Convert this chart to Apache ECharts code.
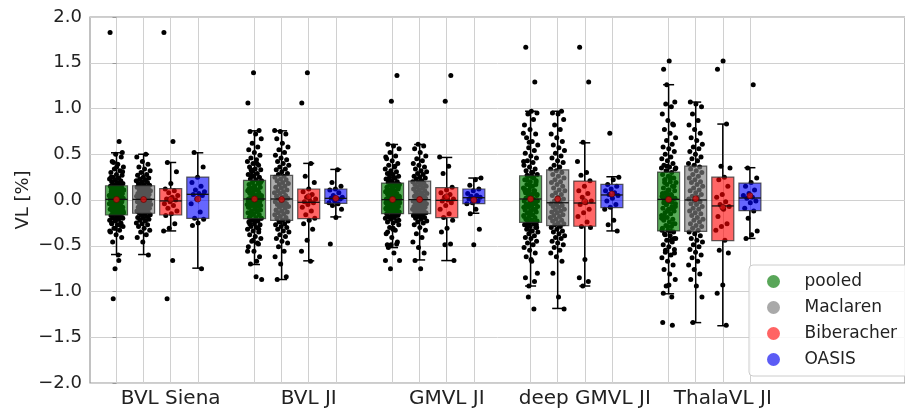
<!DOCTYPE html>
<html>
<head>
<meta charset="utf-8">
<script src="https://cdn.jsdelivr.net/npm/echarts@6/dist/echarts.min.js"></script>
<style>html,body{margin:0;padding:0;background:#fff}#c{width:905px;height:412px}</style>
</head>
<body>
<div id="c"></div>
<script>
// ---------------- data ----------------
const categories = ['BVL Siena', 'BVL JI', 'GMVL JI', 'deep GMVL JI', 'ThalaVL JI'];
const hues = ['pooled', 'Maclaren', 'Biberacher', 'OASIS'];
const yTicks = [-2.0, -1.5, -1.0, -0.5, 0.0, 0.5, 1.0, 1.5, 2.0];

// box statistics [whisker low, Q1, median, Q3, whisker high]
const pooledBox = [
  [-0.596, -0.164, 0.007, 0.156, 0.516],
  [-0.705, -0.204, 0.011, 0.214, 0.756],
  [-0.52, -0.149, 0.004, 0.185, 0.607],
  [-0.94, -0.244, 0.011, 0.265, 0.97],
  [-1.025, -0.338, 0.007, 0.305, 1.26]
];
const maclarenBox = [
  [-0.596, -0.145, 0.007, 0.156, 0.50],
  [-0.869, -0.222, 0.011, 0.269, 0.756],
  [-0.655, -0.149, 0.004, 0.207, 0.607],
  [-1.185, -0.28, -0.03, 0.33, 0.97],
  [-1.34, -0.342, 0.0, 0.37, 1.07]
];
const biberacherBox = [
  [-0.338, -0.164, -0.01, 0.124, 0.41],
  [-0.665, -0.204, -0.025, 0.12, 0.40],
  [-0.662, -0.193, -0.004, 0.135, 0.465],
  [-0.94, -0.287, -0.033, 0.207, 0.625],
  [-1.374, -0.443, -0.065, 0.25, 0.83]
];
const oasisBox = [
  [-0.745, -0.2, 0.062, 0.25, 0.516],
  [-0.185, -0.036, 0.018, 0.12, 0.334],
  [-0.145, -0.04, 0.025, 0.12, 0.24],
  [-0.338, -0.084, 0.055, 0.17, 0.254],
  [-0.42, -0.116, 0.022, 0.185, 0.353]
];

// means (red markers)
const pooledMean = [0.005, 0.01, 0.005, 0.011, 0.005];
const maclarenMean = [0.005, 0.005, 0.005, 0.011, 0.015];
const biberacherMean = [0.007, 0.036, 0.036, -0.018, -0.08];
const oasisMean = [0.01, 0.018, 0.0, 0.065, 0.047];

// individual values
const maclarenPts = [
  [-0.60,-0.46,-0.41,-0.38,-0.35,-0.33,-0.31,-0.29,-0.27,-0.26,-0.25,-0.23,-0.22,-0.21,-0.20,-0.19,-0.18,-0.17,-0.16,-0.15,-0.14,-0.13,-0.12,-0.12,-0.11,-0.10,-0.09,-0.08,-0.08,-0.07,-0.06,-0.05,-0.05,-0.04,-0.03,-0.02,-0.02,-0.01,0.00,0.00,
   0.01,0.02,0.03,0.03,0.04,0.05,0.05,0.06,0.07,0.07,0.08,0.09,0.10,0.10,0.11,0.12,0.13,0.14,0.14,0.15,0.16,0.17,0.18,0.19,0.20,0.21,0.22,0.23,0.24,0.25,0.27,0.28,0.30,0.32,0.34,0.36,0.39,0.42,0.47,0.50],
  [-0.87,-0.84,-0.70,-0.62,-0.56,-0.51,-0.47,-0.45,-0.42,-0.40,-0.38,-0.35,-0.34,-0.32,-0.30,-0.29,-0.27,-0.26,-0.24,-0.23,-0.22,-0.20,-0.19,-0.18,-0.16,-0.15,-0.14,-0.13,-0.12,-0.11,-0.09,-0.08,-0.07,-0.06,-0.05,-0.04,-0.03,-0.02,-0.01,0.01,
   0.02,0.03,0.04,0.05,0.07,0.08,0.09,0.10,0.11,0.13,0.14,0.15,0.17,0.18,0.19,0.21,0.22,0.23,0.25,0.26,0.28,0.29,0.31,0.33,0.34,0.36,0.38,0.40,0.42,0.44,0.46,0.49,0.52,0.55,0.58,0.62,0.67,0.72,0.75,0.76],
  [-0.75,-0.66,-0.58,-0.52,-0.46,-0.41,-0.37,-0.33,-0.30,-0.27,-0.25,-0.24,-0.23,-0.21,-0.20,-0.19,-0.18,-0.17,-0.16,-0.15,-0.14,-0.13,-0.13,-0.12,-0.11,-0.10,-0.10,-0.09,-0.08,-0.07,-0.07,-0.06,-0.05,-0.04,-0.04,-0.03,-0.02,-0.01,-0.01,0.00,
   0.01,0.02,0.03,0.04,0.05,0.06,0.07,0.08,0.09,0.10,0.11,0.12,0.13,0.14,0.15,0.16,0.17,0.18,0.19,0.20,0.21,0.23,0.24,0.25,0.26,0.28,0.29,0.31,0.32,0.34,0.36,0.38,0.40,0.43,0.45,0.48,0.52,0.56,0.59,0.61],
  [-1.19,-1.06,-0.80,-0.67,-0.62,-0.58,-0.55,-0.52,-0.49,-0.47,-0.45,-0.42,-0.41,-0.39,-0.37,-0.35,-0.34,-0.32,-0.30,-0.29,-0.27,-0.26,-0.25,-0.23,-0.22,-0.21,-0.19,-0.18,-0.17,-0.16,-0.14,-0.13,-0.12,-0.11,-0.10,-0.08,-0.07,-0.06,-0.05,-0.04,
   -0.02,-0.01,0.01,0.03,0.05,0.06,0.08,0.10,0.11,0.13,0.15,0.17,0.19,0.20,0.22,0.24,0.26,0.28,0.30,0.32,0.34,0.36,0.38,0.41,0.43,0.46,0.48,0.51,0.54,0.57,0.60,0.64,0.68,0.72,0.77,0.82,0.88,0.94,0.95,0.97],
  [-1.34,-1.06,-0.94,-0.87,-0.81,-0.76,-0.71,-0.67,-0.63,-0.60,-0.57,-0.54,-0.51,-0.49,-0.46,-0.44,-0.42,-0.39,-0.37,-0.35,-0.33,-0.31,-0.29,-0.28,-0.26,-0.24,-0.22,-0.21,-0.19,-0.17,-0.15,-0.14,-0.12,-0.10,-0.09,-0.07,-0.05,-0.04,-0.02,-0.01,
   0.01,0.03,0.04,0.06,0.08,0.10,0.11,0.13,0.15,0.17,0.19,0.20,0.22,0.24,0.26,0.28,0.30,0.32,0.34,0.36,0.38,0.40,0.43,0.45,0.47,0.50,0.53,0.56,0.58,0.61,0.65,0.68,0.73,0.77,0.82,0.87,0.94,1.02,1.05,1.07]
];
const biberacherPts = [
  [1.83,0.64,0.41,0.31,0.18,0.12,0.10,0.08,0.05,0.03,0.01,0.00,-0.02,-0.04,-0.06,-0.09,-0.12,-0.15,-0.17,-0.26,-0.31,-0.34,-0.66,-1.08],
  [1.39,1.06,0.40,0.26,0.19,0.12,0.09,0.06,0.03,0.01,-0.01,-0.02,-0.03,-0.05,-0.08,-0.12,-0.16,-0.20,-0.22,-0.26,-0.32,-0.44,-0.56,-0.67],
  [1.36,1.08,0.47,0.37,0.29,0.14,0.11,0.08,0.06,0.03,0.01,0.00,-0.01,-0.03,-0.06,-0.10,-0.15,-0.19,-0.22,-0.31,-0.35,-0.48,-0.49,-0.66],
  [1.67,1.29,0.63,0.42,0.30,0.27,0.21,0.15,0.10,0.07,0.03,-0.01,-0.03,-0.05,-0.10,-0.14,-0.18,-0.24,-0.29,-0.30,-0.65,-0.85,-0.89,-0.94],
  [1.52,1.43,0.83,0.37,0.35,0.25,0.22,0.15,0.06,0.03,-0.02,-0.05,-0.07,-0.10,-0.18,-0.26,-0.29,-0.33,-0.44,-0.55,-0.58,-0.93,-1.02,-1.37]
];
const oasisPts = [
  [0.52,0.36,0.25,0.19,0.15,0.11,0.09,0.07,0.06,0.05,0.01,-0.04,-0.13,-0.20,-0.21,-0.25,-0.28,-0.75],
  [0.33,0.19,0.15,0.12,0.11,0.08,0.05,0.03,0.02,0.02,0.01,-0.01,-0.03,-0.04,-0.06,-0.10,-0.19,-0.48],
  [0.24,0.22,0.16,0.12,0.10,0.07,0.05,0.04,0.03,0.02,0.01,-0.01,-0.03,-0.04,-0.10,-0.15,-0.32,-0.49],
  [0.73,0.25,0.22,0.17,0.15,0.12,0.10,0.08,0.06,0.05,0.02,-0.01,-0.05,-0.08,-0.10,-0.22,-0.27,-0.34],
  [1.26,0.35,0.24,0.19,0.15,0.11,0.07,0.05,0.03,0.02,-0.01,-0.03,-0.09,-0.12,-0.20,-0.34,-0.38,-0.42]
];
// pooled = all three sources together
const pooledPts = categories.map((c, g) => maclarenPts[g].concat(biberacherPts[g], oasisPts[g]));

// ---------------- layout / styles ----------------
const GROUP_STEP = 5.094;           // axis units between groups (1 unit = box spacing)
const X_MIN = -0.978, X_MAX = 29.1;
const fills = ['rgba(0,128,0,0.65)', 'rgba(128,128,128,0.65)', 'rgba(255,0,0,0.6)', 'rgba(0,0,255,0.6)'];
const legendColors = ['#59a659', '#a9a9a9', '#ff6464', '#5c5cf5'];
const pos = (g, k) => g * GROUP_STEP + k;

const allBoxes = [pooledBox, maclarenBox, biberacherBox, oasisBox];
const allMeans = [pooledMean, maclarenMean, biberacherMean, oasisMean];
const allPts = [pooledPts, maclarenPts, biberacherPts, oasisPts];

const boxData = [];
const meanData = [];
const tickPositions = [];
categories.forEach((c, g) => {
  for (let k = 0; k < 4; k++) {
    const b = allBoxes[k][g];
    boxData.push([pos(g, k), b[0], b[1], b[2], b[3], b[4], k]);
    meanData.push([pos(g, k), allMeans[k][g]]);
    tickPositions.push(pos(g, k));
  }
});
const labelPositions = categories.map((c, g) => pos(g, 2));

const pointSeries = hues.map((h, k) => {
  const data = [];
  categories.forEach((c, g) => {
    allPts[k][g].forEach((v, i) => {
      const j = (((i + 1) * 0.6180339887 + g * 0.37 + k * 0.21) % 1) - 0.5;
      data.push([pos(g, k) + j * 0.54, v]);
    });
  });
  return {
    name: h, type: 'scatter', data: data, z: 1,
    symbol: 'circle', symbolSize: 5,
    itemStyle: { color: '#000', opacity: 1 },
    emphasis: { disabled: true }, silent: true
  };
});

function renderBox(params, api) {
  const x = api.value(0);
  const pMin = api.coord([x, api.value(1)]);
  const pQ1 = api.coord([x, api.value(2)]);
  const pMed = api.coord([x, api.value(3)]);
  const pQ3 = api.coord([x, api.value(4)]);
  const pMax = api.coord([x, api.value(5)]);
  const hue = api.value(6);
  const w = 22, cap = 11, cx = pMed[0];
  const ls = { stroke: '#000', lineWidth: 1.5 };
  return {
    type: 'group', children: [
      { type: 'line', shape: { x1: cx, y1: pQ3[1], x2: cx, y2: pMax[1] }, style: ls },
      { type: 'line', shape: { x1: cx, y1: pQ1[1], x2: cx, y2: pMin[1] }, style: ls },
      { type: 'line', shape: { x1: cx - cap / 2, y1: pMax[1], x2: cx + cap / 2, y2: pMax[1] }, style: ls },
      { type: 'line', shape: { x1: cx - cap / 2, y1: pMin[1], x2: cx + cap / 2, y2: pMin[1] }, style: ls },
      { type: 'rect', shape: { x: cx - w / 2, y: pQ3[1], width: w, height: pQ1[1] - pQ3[1] },
        style: { fill: fills[hue], stroke: 'rgba(40,40,40,0.75)', lineWidth: 1.2 } },
      { type: 'line', shape: { x1: cx - w / 2, y1: pMed[1], x2: cx + w / 2, y2: pMed[1] },
        style: { stroke: '#111', lineWidth: 1.3 } }
    ]
  };
}

const chart = echarts.init(document.getElementById('c'), null, { renderer: 'canvas' });
chart.setOption({
  animation: false,
  textStyle: { fontFamily: 'DejaVu Sans' },
  grid: { left: 90, top: 17, width: 830, height: 366, show: true, borderColor: '#999', borderWidth: 1.2, backgroundColor: 'transparent' },
  legend: {
    orient: 'vertical', left: 749, top: 265,
    padding: [8, 300, 8, 18],
    itemWidth: 52, itemHeight: 13, itemGap: 9,
    icon: 'circle',
    backgroundColor: 'rgba(255,255,255,0.85)', borderColor: '#cccccc', borderWidth: 1, borderRadius: 4,
    textStyle: { fontSize: 17, color: '#222', fontFamily: 'DejaVu Sans' },
    data: hues.map((h, i) => ({ name: h, itemStyle: { color: legendColors[i] } })),
    selectedMode: false
  },
  xAxis: {
    type: 'value', min: X_MIN, max: X_MAX,
    axisLine: { show: false },
    axisTick: { show: true, length: 4, customValues: tickPositions, lineStyle: { color: '#999' } },
    axisLabel: {
      customValues: labelPositions, fontSize: 20, color: '#222', margin: 6,
      formatter: function (v) {
        const g = labelPositions.findIndex(p => Math.abs(p - v) < 1e-6);
        return g >= 0 ? categories[g] : '';
      }
    },
    splitLine: { show: true, lineStyle: { color: '#d0d0d0', width: 1 } }
  },
  yAxis: {
    type: 'value', min: yTicks[0], max: yTicks[yTicks.length - 1], interval: 0.5,
    name: 'VL [%]', nameLocation: 'middle', nameGap: 58, nameMoveOverlap: false,
    nameTextStyle: { fontSize: 18, color: '#222' },
    axisLine: { show: false },
    axisTick: { show: true, length: 4, lineStyle: { color: '#999' } },
    axisLabel: { fontSize: 18, color: '#222', margin: 8,
      formatter: v => v.toFixed(1).replace('-', '\u2212') },
    splitLine: { show: true, lineStyle: { color: '#d0d0d0', width: 1 } }
  },
  series: pointSeries.concat([
    {
      name: 'boxes', type: 'custom', renderItem: renderBox, data: boxData, z: 3,
      encode: { x: 0, y: [1, 2, 3, 4, 5] }, silent: true
    },
    {
      name: 'means', type: 'scatter', data: meanData, z: 4, symbolSize: 6,
      itemStyle: { color: '#d01010', borderColor: '#5a0000', borderWidth: 0.8 }, silent: true
    }
  ])
});
</script>
</body>
</html>
